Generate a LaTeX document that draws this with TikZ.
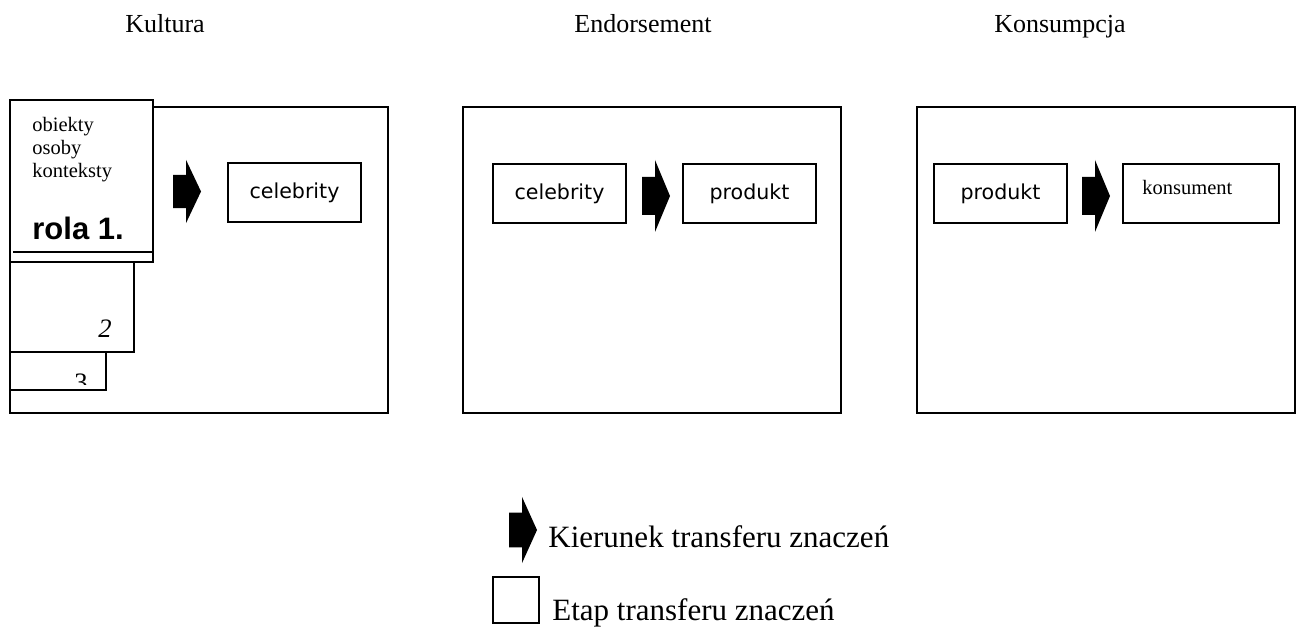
\documentclass[tikz,border=0pt]{standalone}
\usepackage{fontspec}
\setmainfont{Liberation Serif}
\newfontfamily\verdana{DejaVu Sans}
\newfontfamily\arial{Liberation Sans}
\usetikzlibrary{positioning}

\tikzset{
  stage/.style={draw, line width=1pt, fill=white},
  item/.style={draw, line width=1pt, minimum width=66.5pt, minimum height=29.5pt,
    inner sep=0pt, font=\verdana\fontsize{10.3}{12}\selectfont},
  small/.style={inner sep=0pt, font=\fontsize{10.25}{11.5}\selectfont},
  title/.style={anchor=base, inner sep=0pt, font=\fontsize{13}{16}\selectfont},
  legend/.style={anchor=base west, inner sep=0pt, font=\fontsize{15.5}{18}\selectfont},
  transfer/.pic={
    \fill (0,-19) -- (13,-19) -- (13,-36) -- (28,0) -- (13,36) -- (13,19) -- (0,19) -- cycle;
  }
}

\begin{document}
\begin{tikzpicture}[x=0.5pt, y=-0.5pt]
  \useasboundingbox (0,0) rectangle (1301,630);

  % titles
  \node[title] (kultura) at (165,33) {Kultura};
  \node[title] (endorsement) at (643,33) {Endorsement};
  \node[title] (konsumpcja) at (1060,33) {Konsumpcja};

  % stages
  \draw[stage] (10,107) rectangle (388,413);
  \draw[stage] (463,107) rectangle (841,413);
  \draw[stage] (917,107) rectangle (1295,413);

  % roles in culture
  \draw[stage] (10,352) rectangle (106,390);
  \begin{scope}
    \clip (10,352) rectangle (106,385);
    \node[anchor=base west, inner sep=0pt, font=\fontsize{13.3}{15}\selectfont] (rola3) at (74,392) {3};
  \end{scope}
  \draw[stage] (10,262) rectangle (134,352);
  \node[anchor=base east, inner sep=0pt, font=\itshape\fontsize{13.3}{15}\selectfont] (rola2) at (112,338) {2};
  \draw[stage] (10,100) rectangle (153,262);
  \draw[line width=1pt] (13,252) -- (153,252);
  \node[small, anchor=north west, align=left] (zrodla) at (32,117) {obiekty\\osoby\\konteksty};
  \node[anchor=base west, inner sep=0pt, font=\arial\bfseries\fontsize{15.5}{18}\selectfont] (rola1) at (32,240) {rola 1.};

  % items
  \node[item] (celebrity1) at (294.5,193) {celebrity};
  \node[item] (celebrity2) at (559.5,193.5) {celebrity};
  \node[item] (produkt2) at (749.5,193.5) {produkt};
  \node[item] (produkt3) at (1000.5,193.5) {produkt};
  \node[item, minimum width=78pt] (konsument) at (1201,193.5) {};
  \node[small, anchor=base west] (konsumentlabel) at (1142,195) {konsument};

  % transfer arrows
  \pic[yscale=0.88] at (173,191.5) {transfer};
  \pic at (642,196) {transfer};
  \pic at (1082,196) {transfer};

  % legend
  \pic[yscale=0.92] at (509,530) {transfer};
  \node[legend] (kierunek) at (548,547) {Kierunek transferu znaczeń};
  \node[draw, line width=1pt, minimum width=23pt, minimum height=23pt, inner sep=0pt] (etapkey) at (516,600) {};
  \node[legend] (etap) at (552,620) {Etap transferu znaczeń};
\end{tikzpicture}
\end{document}
